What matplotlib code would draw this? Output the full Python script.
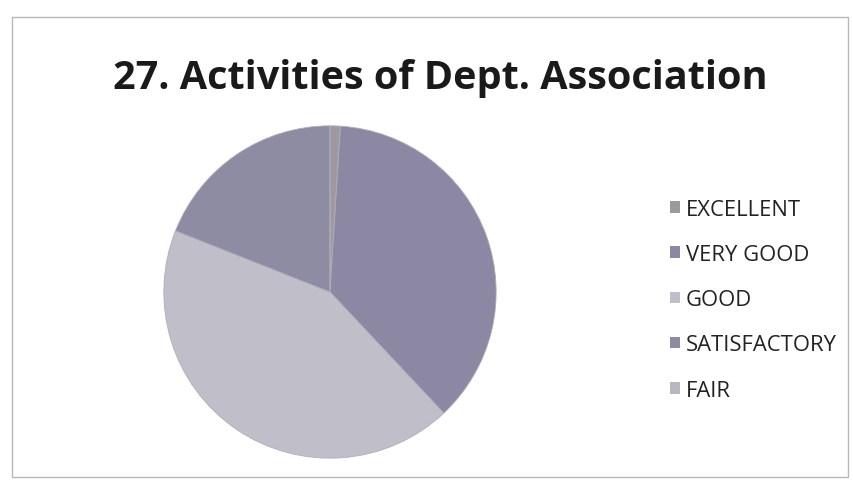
import matplotlib.pyplot as plt
from matplotlib.patches import Rectangle, Patch

categories = ['EXCELLENT', 'VERY GOOD', 'GOOD', 'SATISFACTORY', 'FAIR']
values = [1, 37, 43, 19, 0]
colors = ['#9c9aa0', '#8c87a3', '#c0bfc9', '#8e8ca2', '#b9b8c2']

fig = plt.figure(figsize=(8.54, 4.89), dpi=100)
fig.patch.set_facecolor('white')

# outer frame of the chart area
fig.add_artist(Rectangle((12 / 854, 11 / 489), 836 / 854, 460 / 489,
                         transform=fig.transFigure, fill=False,
                         edgecolor='#b8b8b8', linewidth=1))

fig.text(0.516, 0.84, '27. Activities of Dept. Association',
         ha='center', va='center', fontsize=28.5, fontweight='bold',
         family='Open Sans', color='#1a1a1a')

ax = fig.add_axes([163 / 854, 29 / 489, 334 / 854, 334 / 489])
ax.pie(values, colors=colors, startangle=90, counterclock=False,
       wedgeprops={'linewidth': 0.6, 'edgecolor': '#b0adb8'})
ax.set_xlim(-1.005, 1.005)
ax.set_ylim(-1.005, 1.005)
ax.set_aspect('equal')

handles = [Patch(facecolor=c, edgecolor='none') for c in colors]
fig.legend(handles, categories, loc='center left',
           bbox_to_anchor=(0.762, 0.385), frameon=False,
           prop={'family': 'Open Sans', 'size': 15.8},
           handlelength=0.45, handleheight=0.45, handletextpad=0.25,
           labelspacing=1.1, labelcolor='#222222')

fig.savefig('out.png', dpi=100)
